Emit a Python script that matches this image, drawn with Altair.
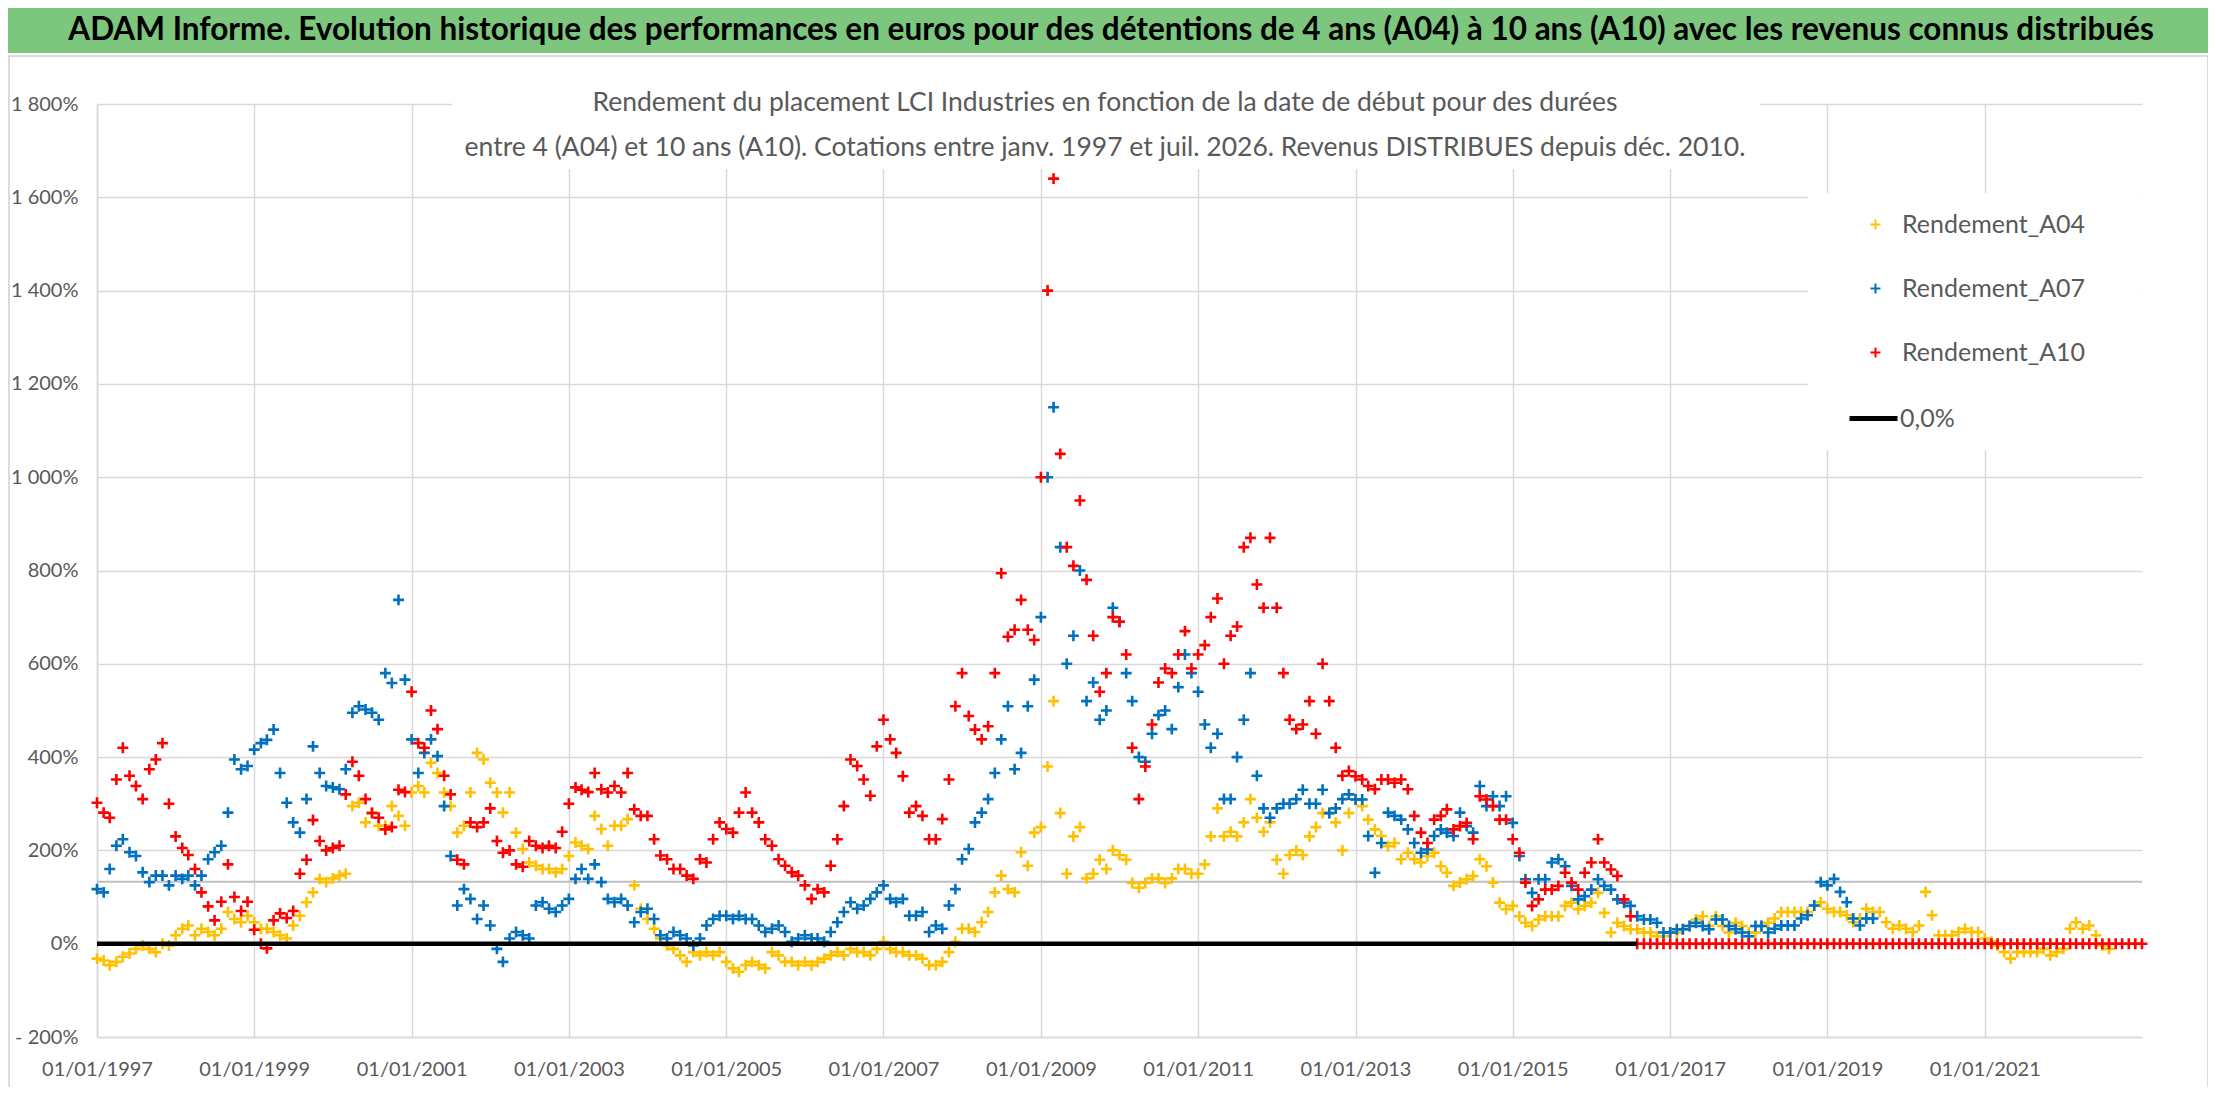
import altair as alt
import pandas as pd

TITLE = ("ADAM Informe. Evolution historique des performances en euros pour des détentions "
         "de 4 ans (A04) à 10 ans (A10) avec les revenus connus distribués")
SUBTITLE_1 = "Rendement du placement LCI Industries en fonction de la date de début pour des durées"
SUBTITLE_2 = ("entre 4 (A04) et 10 ans (A10). Cotations entre janv. 1997 et juil. 2026. "
              "Revenus DISTRIBUES depuis déc. 2010.")

SERIES = ["Rendement_A04", "Rendement_A07", "Rendement_A10"]
COLORS = ["#FFC000", "#0070C0", "#FF0000"]
ZERO_LABEL = "0,0%"
START = "1997-01-01"            # first monthly reading
Y_TICKS = list(range(-200, 1801, 200))
X_TICK_YEARS = list(range(1997, 2022, 2))
REF_LEVEL = 133                 # grey horizontal line

# monthly readings (%), one row per year from 1997
a04 = [
    -32, -36, -46, -39, -28, -21, -11, -4, -11, -18, 0, -4,
    18, 32, 39, 18, 32, 25, 18, 32, 68, 53, 46, 60,
    46, 32, 32, 25, 18, 11, 39, 60, 89, 110, 139, 132,
    140, 146, 150, 295, 302, 260, 281, 253, 253, 295, 274, 253,
    324, 338, 324, 388, 366, 324, 295, 238, 253, 324, 409, 395,
    345, 324, 281, 324, 238, 203, 174, 167, 160, 160, 153, 160,
    188, 217, 210, 203, 274, 246, 210, 253, 253, 267, 125, 75,
    53, 32, 11, -4, -11, -25, -39, -18, -25, -18, -25, -18,
    -39, -53, -60, -46, -39, -46, -53, -18, -25, -39, -39, -46,
    -39, -46, -39, -32, -25, -18, -25, -11, -18, -18, -25, -11,
    4, -11, -18, -18, -25, -25, -32, -46, -46, -39, -18, 4,
    32, 32, 25, 46, 68, 110, 146, 117, 110, 196, 167, 238,
    250, 380, 520, 280, 150, 230, 250, 140, 150, 180, 160, 200,
    190, 180, 130, 120, 130, 140, 140, 130, 140, 160, 160, 150,
    150, 170, 230, 290, 230, 240, 230, 260, 310, 270, 240, 260,
    180, 150, 190, 200, 190, 230, 250, 280, 280, 260, 200, 280,
    309, 295, 266, 245, 231, 209, 216, 181, 195, 181, 174, 188,
    195, 166, 152, 124, 131, 138, 145, 181, 166, 131, 88, 74,
    81, 59, 45, 38, 52, 59, 59, 59, 81, 88, 74, 81,
    88, 109, 66, 24, 45, 38, 31, 31, 24, 24, 16, 16,
    24, 24, 31, 38, 52, 59, 38, 59, 38, 24, 45, 38,
    24, 24, 38, 45, 54, 68, 68, 68, 68, 68, 82, 89,
    75, 68, 68, 61, 46, 54, 75, 68, 68, 46, 32, 39,
    32, 25, 39, 111, 61, 18, 18, 18, 25, 32, 25, 25,
    11, 4, -4, -18, -32, -18, -18, -18, -18, -11, -25, -18,
    -11, 32, 46, 32, 39, 18, -4, -11,
]

a07 = [
    117, 110, 160, 210, 224, 196, 188, 153, 132, 146, 146, 125,
    146, 139, 146, 125, 146, 181, 196, 210, 281, 395, 374, 381,
    416, 430, 437, 459, 366, 302, 260, 238, 310, 423, 366, 338,
    335, 331, 374, 495, 509, 502, 495, 480, 580, 559, 737, 566,
    438, 366, 409, 438, 402, 295, 188, 82, 117, 96, 53, 82,
    39, -11, -39, 11, 25, 18, 11, 82, 89, 75, 68, 82,
    96, 139, 160, 139, 170, 132, 96, 89, 96, 82, 46, 68,
    75, 53, 18, 11, 25, 18, 11, -4, 11, 39, 53, 60,
    60, 53, 60, 53, 53, 39, 25, 32, 39, 25, 4, 11,
    18, 11, 11, 4, 25, 46, 68, 89, 75, 82, 96, 110,
    125, 96, 89, 96, 60, 60, 68, 25, 39, 32, 82, 117,
    181, 203, 260, 281, 310, 366, 438, 509, 374, 409, 509, 566,
    700, 1000, 1150, 850, 600, 660, 800, 520, 560, 480, 500, 720,
    690, 580, 520, 400, 390, 450, 490, 500, 460, 550, 620, 580,
    540, 470, 420, 450, 310, 310, 400, 480, 580, 360, 290, 270,
    290, 300, 300, 310, 330, 300, 300, 330, 280, 290, 310, 320,
    309, 309, 231, 152, 216, 281, 274, 266, 245, 216, 195, 202,
    231, 245, 238, 231, 281, 252, 238, 338, 295, 316, 295, 316,
    259, 188, 138, 109, 138, 138, 174, 181, 166, 124, 95, 102,
    116, 138, 124, 116, 95, 88, 81, 59, 52, 52, 45, 24,
    24, 31, 31, 38, 45, 38, 31, 52, 52, 38, 31, 24,
    16, 38, 38, 24, 32, 39, 39, 39, 54, 61, 82, 132,
    125, 139, 111, 89, 54, 39, 54, 54,
]

a10 = [
    302, 281, 270, 352, 420, 360, 338, 310, 374, 395, 430, 300,
    230, 205, 190, 160, 110, 80, 50, 90, 170, 100, 70, 90,
    30, 0, -10, 50, 65, 55, 70, 150, 180, 265, 220, 200,
    205, 210, 320, 390, 360, 310, 280, 270, 245, 250, 330, 325,
    540, 430, 420, 500, 460, 360, 320, 180, 170, 260, 250, 260,
    290, 220, 195, 200, 170, 165, 220, 210, 205, 210, 205, 240,
    300, 335, 330, 325, 366, 331, 324, 338, 324, 366, 288, 274,
    274, 224, 189, 181, 160, 160, 146, 139, 181, 174, 224, 260,
    246, 238, 281, 324, 281, 260, 224, 210, 181, 167, 153, 146,
    125, 96, 117, 110, 167, 224, 295, 395, 381, 352, 317, 423,
    480, 438, 409, 359, 281, 295, 274, 224, 224, 267, 352, 509,
    580, 488, 459, 438, 466, 580, 794, 658, 673, 737, 673, 651,
    1000, 1400, 1640, 1050, 850, 810, 950, 780, 660, 540, 580, 700,
    690, 620, 420, 310, 380, 470, 560, 590, 580, 620, 670, 590,
    620, 640, 700, 740, 600, 660, 680, 850, 870, 770, 720, 870,
    720, 580, 480, 460, 470, 520, 450, 600, 520, 420, 360, 370,
    359, 352, 338, 331, 352, 352, 345, 352, 331, 274, 238, 216,
    266, 274, 288, 245, 252, 259, 224, 316, 309, 295, 266, 266,
    224, 195, 131, 81, 95, 116, 116, 124, 152, 131, 116, 152,
    174, 224, 174, 159, 145, 95, 59,
]
# A10 plotted at 0 from mid-2016 to the end (no 10-year window yet)
a10_tail = [
    0, 0, 0, 0, 0,
    0, 0, 0, 0, 0, 0, 0, 0, 0, 0, 0, 0,
    0, 0, 0, 0, 0, 0, 0, 0, 0, 0, 0, 0,
    0, 0, 0, 0, 0, 0, 0, 0, 0, 0, 0, 0,
    0, 0, 0, 0, 0, 0, 0, 0, 0, 0, 0, 0,
    0, 0, 0, 0, 0, 0, 0, 0, 0, 0, 0, 0,
    0, 0, 0, 0, 0, 0, 0, 0, 0, 0, 0, 0,
    0,
]

FONT = "Lato"
GREY_TXT = "#595959"
GRID = "#D9D9D9"
PLUS = "M-1,0L1,0M0,-1L0,1"
W, H = 2045, 933


def monthly(name, values):
    dates = pd.date_range(START, periods=len(values), freq="MS")
    return pd.DataFrame({"date": dates, "val": values, "serie": name})


points = pd.concat(
    [monthly(SERIES[0], a04), monthly(SERIES[1], a07), monthly(SERIES[2], a10 + a10_tail)],
    ignore_index=True,
)
zero = monthly(ZERO_LABEL, [0] * (len(a10) + 1)).rename(columns={"serie": "ref"})
one = pd.DataFrame({"k": [0]})

x_enc = alt.X(
    "date:T",
    title=None,
    scale=alt.Scale(domain=[alt.DateTime(year=1997, month=1, date=1),
                            alt.DateTime(year=2023, month=1, date=1)]),
    axis=alt.Axis(
        values=[alt.DateTime(year=y, month=1, date=1) for y in X_TICK_YEARS],
        format="%d/%m/%Y", labelFlush=False, labelOverlap=False, labelPadding=22,
    ),
)
y_enc = alt.Y(
    "val:Q",
    title=None,
    scale=alt.Scale(domain=[-200, 1800], nice=False, zero=False),
    axis=alt.Axis(
        values=Y_TICKS, labelPadding=19,
        labelExpr="(datum.value < 0 ? '- ' : '') + replace(format(abs(datum.value), ','), ',', ' ') + '%'",
    ),
)

# frame and green header band
frame = alt.Chart(one).mark_rect(filled=False, color="#CFCFCF", strokeWidth=1.5).encode(
    x=alt.value(-88), x2=alt.value(2111), y=alt.value(-48), y2=alt.value(989)
)
header = alt.Chart(one).mark_rect(color="#7DC67D").encode(
    x=alt.value(-89), x2=alt.value(2111), y=alt.value(-96), y2=alt.value(-51)
)
title = alt.Chart(one).mark_text(
    text=TITLE, font=FONT, fontSize=31.5, fontWeight="bold", color="black",
    align="center", baseline="middle",
).encode(x=alt.value(1014), y=alt.value(-73))

sub_mask = alt.Chart(one).mark_rect(color="white").encode(
    x=alt.value(355), x2=alt.value(1663), y=alt.value(-45), y2=alt.value(65)
)
leg_mask = alt.Chart(one).mark_rect(color="white").encode(
    x=alt.value(1711), x2=alt.value(2045), y=alt.value(89), y2=alt.value(346)
)
sub1 = alt.Chart(one).mark_text(
    text=SUBTITLE_1, font=FONT, fontSize=26.5, color=GREY_TXT, align="center", baseline="middle"
).encode(x=alt.value(1008), y=alt.value(-1))
sub2 = alt.Chart(one).mark_text(
    text=SUBTITLE_2, font=FONT, fontSize=26.5, color=GREY_TXT, align="center", baseline="middle"
).encode(x=alt.value(1008), y=alt.value(44))

ref = alt.Chart(one).mark_rule(color="#BFBFBF", strokeWidth=2).encode(y=alt.datum(REF_LEVEL))

pts = alt.Chart(points).mark_point(
    shape=PLUS, filled=False, size=120, strokeWidth=2.6, opacity=1
).encode(
    x=x_enc,
    y=y_enc,
    color=alt.Color(
        "serie:N",
        scale=alt.Scale(domain=SERIES, range=COLORS),
        legend=alt.Legend(
            orient="none", legendX=1766, legendY=108, title=None, symbolType=PLUS,
            symbolSize=100, symbolStrokeWidth=2, labelFont=FONT, labelFontSize=25,
            labelColor=GREY_TXT, labelOffset=14, rowPadding=38, padding=0, labelLimit=400,
        ),
    ),
)

zline = alt.Chart(zero).mark_line(color="black", strokeWidth=4.5).encode(
    x="date:T",
    y="val:Q",
    strokeDash=alt.StrokeDash(
        "ref:N",
        scale=alt.Scale(range=[[1, 0]]),
        legend=alt.Legend(
            orient="none", legendX=1750, legendY=288, title=None, symbolType="stroke",
            symbolStrokeColor="black", symbolStrokeWidth=5, symbolSize=2304,
            labelFont=FONT, labelFontSize=25, labelColor=GREY_TXT, labelOffset=0, padding=0,
        ),
    ),
)

chart = (
    alt.layer(frame, header, title, sub_mask, leg_mask, ref, pts, zline, sub1, sub2)
    .properties(
        width=W, height=H,
        autosize=alt.AutoSizeParams(type="none"),
        padding={"left": 89, "top": 96, "right": 66, "bottom": 50},
        background="white",
    )
    .configure_view(stroke=None)
    .configure_axis(
        labelFont=FONT, labelFontSize=20, labelColor=GREY_TXT, ticks=False,
        grid=True, gridColor=GRID, gridWidth=1.5, domainColor=GRID, domainWidth=1.5,
    )
)

chart.save("out.html", embed_options={"renderer": "svg", "actions": False})
